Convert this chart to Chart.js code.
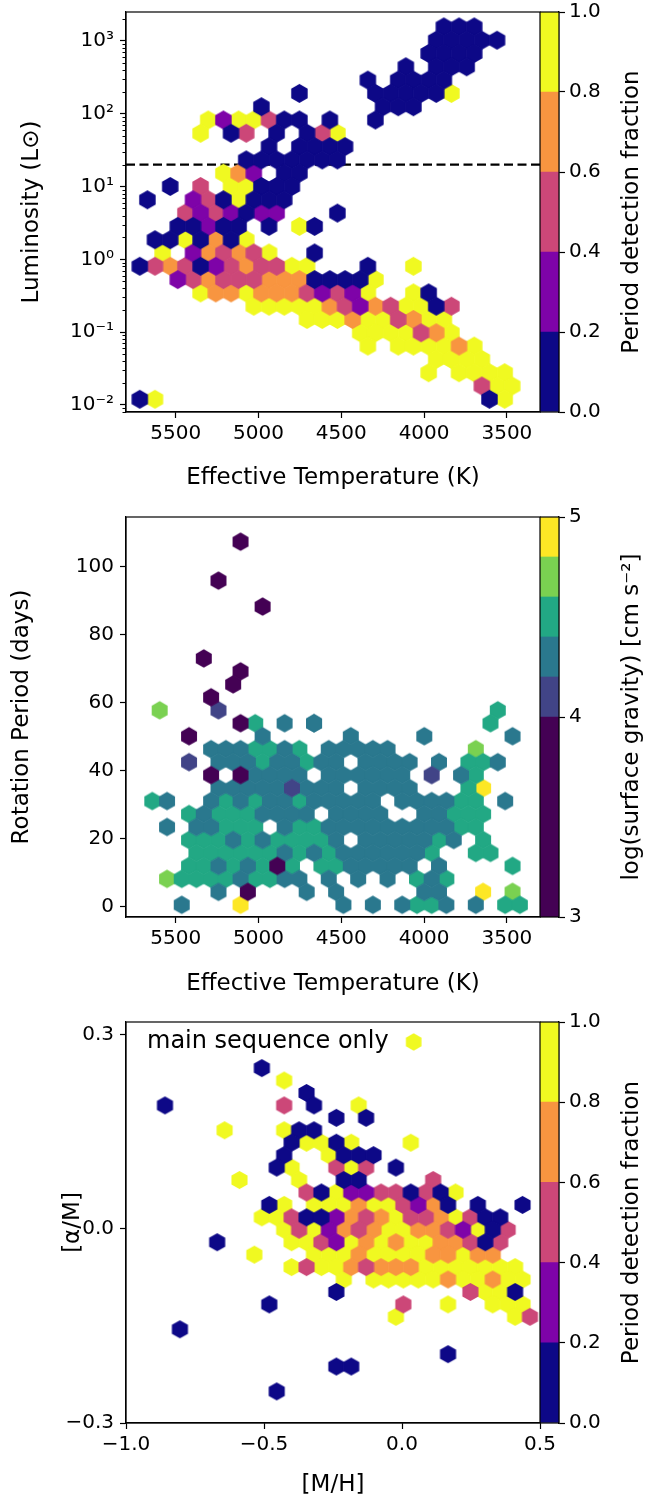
<!DOCTYPE html>
<html>
<head>
<meta charset="utf-8">
<title>Period detection across the HR diagram</title>
<script src="https://cdn.jsdelivr.net/npm/chart.js@4.4.1/dist/chart.umd.min.js"></script>
<style>
  body { margin: 0; background: #fff; }
  #page { position: relative; width: 649px; height: 1501px; overflow: hidden; background: #fff; }
  #page canvas { position: absolute; }
</style>
</head>
<body>
<div id="page">
  <canvas id="hr" width="560" height="500" style="left:0px;top:0px"></canvas>
  <canvas id="hrBar" width="109" height="500" style="left:540px;top:0px"></canvas>
  <canvas id="prot" width="560" height="505" style="left:0px;top:500px"></canvas>
  <canvas id="protBar" width="109" height="505" style="left:540px;top:500px"></canvas>
  <canvas id="chem" width="560" height="496" style="left:0px;top:1005px"></canvas>
  <canvas id="chemBar" width="109" height="496" style="left:540px;top:1005px"></canvas>
</div>
<script>
// ---------------- data ----------------
// Each hexbin row is a list of "start:cells" runs; a cell is '.' (empty)
// or the colour class of that bin. Rows go from top to bottom.

// panel 1: luminosity vs Teff, class = detection fraction bin (0-0.2 ... 0.8-1.0)
const hrRows = [
  "", "21:000", "20:00000", "20:0000", "18:0.000", "16:0.0000",
  "11:0 16:000004", "9:0 17:000", "5:4144200.0 16:0", "5:4.02.0.024",
  "9:0.0000", "8:0000000", "6:431.00", "3:0.2.44000", "1:0 4:1204000",
  "4:2121011 14:0", "3:00100.0.40", "2:0040304", "2:4.132324 12:0",
  "1:023201232244 16:0 19:4", "3:12322233300004", "5:433433321214 19:40",
  "8:44444321324402", "12:4443442344", "15:4444234", "16:4.444434",
  "20:4444", "20:4.4444", "23:244", "1:04 24:04"
];
const hrTeff0 = 5808.5, hrTeffStep = 45.9;     // K, half hex width
const hrLogL0 = 3.376, hrLogLStep = 0.1827;    // log10(L/Lsun) per row

// panel 2: rotation period vs Teff, class = log g bin
const protRows = [
  "8:0", "", "", "6:0", "", "9:0", "", "", "", "5:0", "8:0", "7:0", "6:0",
  "2:4 6:1 25:3", "8:03.2.2 13:2 25:3", "4:0 9:2 15:2 20:2 26:2",
  "6:2223323.22222 24:4", "4:1.222322322.2222.2.332",
  "6:0.02222.222222.1.23", "6:222221222.2222 23:35",
  "2:32 6:232322322222.222233.2", "4:323332222.2222 20:22333",
  "3:2.22333.23322222222233", "4:33323233332.2222232.3",
  "5:33333323232222223 24:33", "4:33232303.3322222.2 26:3",
  "3:4333323322.2.2.2.323", "6:2.0 12:2.2 20:22 24:5.4",
  "4:2 8:5 15:2.2.2332.2.33"
];
const protTeff0 = 5818.7, protTeffStep = 44.39; // K
const protP0 = 107.44, protPStep = 3.816;       // days per row

// panel 3: [alpha/M] vs [M/H], main sequence only, class = detection fraction bin
const chemRows = [
  "", "", "", "", "9:0", "11:4", "12:0", "3:0 11:2.0 16:4", "14:0.0",
  "7:4 11:400", "11:04404 19:4", "11:0 14:4000", "10:04 14:242.0",
  "8:4 12:4 15:00 21:2", "12:20411220204", "10:04.4443442130.0 27:0",
  "9:44200132342234200", "11:4241323443321402", "6:0 11:442143434433202",
  "9:4 13:4443444433433", "11:4244323334444444", "15:4.44444344344",
  "14:0 23:2440", "10:0 19:2 22:4 25:444", "18:4 26:42", "4:0", "",
  "22:0", "14:00", "", "10:0"
];
const chemMH0 = -1.0207, chemMHStep = 0.02699;
const chemAlpha0 = 0.3257, chemAlphaStep = 0.01923;

const giantCut = 20;  // Lsun, dashed line

const teffTicks = [5500, 5000, 4500, 4000, 3500];
const lumTicks = [0.01, 0.1, 1, 10, 100, 1000];
const periodTicks = [0, 20, 40, 60, 80, 100];
const mhTicks = [-1.0, -0.5, 0.0, 0.5];
const alphaTicks = [-0.3, 0.0, 0.3];
const fracEdges = [0, 0.2, 0.4, 0.6, 0.8, 1.0];
const fracTicks = [0, 0.2, 0.4, 0.6, 0.8, 1.0];
const loggEdges = [3, 4, 4.2, 4.4, 4.6, 4.8, 5];
const loggTicks = [3, 4, 5];

const plasma5 = ['#0d0887', '#7e03a8', '#cc4778', '#f89540', '#f0f921'];
const viridis6 = ['#440154', '#414487', '#2a788e', '#22a884', '#7ad151', '#fde725'];

// ---------------- helpers ----------------
Chart.defaults.font.family = "'DejaVu Sans', 'Liberation Sans', sans-serif";
Chart.defaults.color = '#000';
const TICK_PX = 20, LABEL_PX = 23, LEGEND_PX = 24;

function hexSprite(color, w, h) {
  const c = document.createElement('canvas');
  c.width = Math.ceil(w) + 2;
  c.height = Math.ceil(h) + 2;
  const g = c.getContext('2d');
  const cx = c.width / 2, cy = c.height / 2;
  g.fillStyle = color;
  g.beginPath();
  g.moveTo(cx, cy - h / 2);
  g.lineTo(cx + w / 2, cy - h / 4);
  g.lineTo(cx + w / 2, cy + h / 4);
  g.lineTo(cx, cy + h / 2);
  g.lineTo(cx - w / 2, cy + h / 4);
  g.lineTo(cx - w / 2, cy - h / 4);
  g.closePath();
  g.fill();
  return c;
}

function parseRows(rows) {
  return rows.map(spec => {
    const cells = [];
    spec.split(' ').filter(Boolean).forEach(seg => {
      const [start, chars] = seg.split(':');
      for (let j = 0; j < chars.length; j++) {
        if (chars[j] !== '.') cells.push([+start + j, +chars[j]]);
      }
    });
    return cells;
  });
}

// one dataset per colour class, odd/even rows offset by half a hex
function hexDatasets(rows, shiftEven, colors, toPoint, w, h) {
  const sets = colors.map(col => ({
    data: [],
    pointStyle: hexSprite(col, w + 1.2, h + 1.2),
    pointRadius: 8,
    showLine: false
  }));
  parseRows(rows).forEach((cells, r) => {
    const shift = ((r % 2 === 0) === shiftEven) ? 1 : 0;
    cells.forEach(([i, level]) => sets[level].data.push(toPoint(2 * i + shift, r)));
  });
  return sets;
}

const sup = {'-': '\u207B', '0': '\u2070', '1': '\u00B9', '2': '\u00B2', '3': '\u00B3'};
function pow10Label(v) {
  const e = Math.round(Math.log10(v));
  return '10' + String(e).split('').map(ch => sup[ch]).join('');
}
function signed1(v) {
  return (v < -1e-9 ? '\u2212' : '') + Math.abs(v).toFixed(1);
}

function axis(o) {
  return {
    type: o.type || 'linear',
    position: o.position,
    reverse: !!o.reverse,
    min: o.min,
    max: o.max,
    afterBuildTicks: s => { s.ticks = o.ticks.map(v => ({value: v})); },
    afterFit: s => {
      if (o.position === 'bottom') s.height = o.size; else s.width = o.size;
      s.paddingTop = 0; s.paddingBottom = 0; s.paddingLeft = 0; s.paddingRight = 0;
    },
    grid: {drawOnChartArea: false, drawTicks: true, tickLength: 6, tickColor: '#000', tickWidth: 1.2},
    border: {display: true, color: '#000', width: 1.2},
    ticks: {color: '#000', font: {size: TICK_PX}, padding: o.position === 'left' ? 6 : 4,
            autoSkip: false, maxRotation: 0, callback: o.fmt || (v => String(v))},
    title: o.title
      ? {display: true, text: o.title, color: '#000', font: {size: LABEL_PX}, padding: o.titlePad}
      : {display: false}
  };
}

const framePlugin = {
  id: 'frame',
  afterDraw(chart) {
    const a = chart.chartArea, ctx = chart.ctx;
    ctx.save();
    ctx.strokeStyle = '#000';
    ctx.lineWidth = 1.2;
    ctx.strokeRect(a.left, a.top, a.right - a.left, a.bottom - a.top);
    ctx.restore();
  }
};

const minorLogTicks = {
  id: 'minorLogTicks',
  afterDraw(chart) {
    const y = chart.scales.y, x0 = chart.chartArea.left, ctx = chart.ctx;
    ctx.save();
    ctx.strokeStyle = '#000';
    ctx.lineWidth = 1;
    for (let e = -3; e <= 3; e++) {
      for (let m = 2; m <= 9; m++) {
        const v = m * Math.pow(10, e);
        if (v < y.min || v > y.max) continue;
        const py = Math.round(y.getPixelForValue(v)) + 0.5;
        ctx.beginPath();
        ctx.moveTo(x0, py);
        ctx.lineTo(x0 - 3.5, py);
        ctx.stroke();
      }
    }
    ctx.restore();
  }
};

function hexChart(id, cfg) {
  return new Chart(document.getElementById(id), {
    type: 'scatter',
    data: {datasets: cfg.datasets},
    options: {
      responsive: false, animation: false, events: [], devicePixelRatio: 1,
      layout: {padding: {top: cfg.padTop, right: 20, left: 0, bottom: 0}},
      plugins: {legend: {display: false}, tooltip: {enabled: false}},
      scales: {x: cfg.x, y: cfg.y}
    },
    plugins: [framePlugin].concat(cfg.plugins || [])
  });
}

function colorbar(id, colors, edges, ticks, fmt, label, padTop, padBottom) {
  const titlePlugin = {
    id: 'cbTitle',
    afterDraw(chart) {
      const {ctx, chartArea} = chart;
      ctx.save();
      ctx.translate(92, (chartArea.top + chartArea.bottom) / 2);
      ctx.rotate(-Math.PI / 2);
      ctx.font = LABEL_PX + "px 'DejaVu Sans'";
      ctx.fillStyle = '#000';
      ctx.textAlign = 'center';
      ctx.textBaseline = 'middle';
      ctx.fillText(label, 0, 0);
      ctx.restore();
    }
  };
  return new Chart(document.getElementById(id), {
    type: 'bar',
    data: {
      labels: [''],
      datasets: colors.map((col, k) => ({
        data: [[edges[k], edges[k + 1]]],
        backgroundColor: col,
        borderWidth: 0,
        barPercentage: 1,
        categoryPercentage: 1,
        grouped: false
      }))
    },
    options: {
      responsive: false, animation: false, events: [], devicePixelRatio: 1,
      layout: {padding: {top: padTop, bottom: padBottom, left: 0, right: 0}},
      plugins: {legend: {display: false}, tooltip: {enabled: false}},
      scales: {
        x: {display: false},
        y: axis({position: 'right', min: edges[0], max: edges[edges.length - 1],
                 ticks: ticks, fmt: fmt, size: 90})
      }
    },
    plugins: [framePlugin, titlePlugin]
  });
}

// ---------------- panel 1 ----------------
const hrSets = hexDatasets(hrRows, true, plasma5,
  (c, r) => ({x: hrTeff0 - hrTeffStep * c, y: Math.pow(10, hrLogL0 - hrLogLStep * r)}),
  15.25, 17.73);
hrSets.push({
  data: [{x: 5800, y: giantCut}, {x: 3300, y: giantCut}],
  showLine: true, borderColor: '#000', borderWidth: 2.4, borderDash: [9, 4.5],
  pointRadius: 0, fill: false
});
hexChart('hr', {
  padTop: 12,
  datasets: hrSets,
  x: axis({position: 'bottom', reverse: true, min: 3300, max: 5800, ticks: teffTicks, size: 88,
           title: 'Effective Temperature (K)', titlePad: {bottom: 8}}),
  y: axis({position: 'left', type: 'logarithmic', min: 0.008, max: 2500, ticks: lumTicks,
           fmt: pow10Label, size: 126, title: 'Luminosity (L\u2299)', titlePad: {top: 18}}),
  plugins: [minorLogTicks]
});
colorbar('hrBar', plasma5, fracEdges, fracTicks, v => v.toFixed(1), 'Period detection fraction', 12, 88);

// ---------------- panel 2 ----------------
hexChart('prot', {
  padTop: 17,
  datasets: hexDatasets(protRows, false, viridis6,
    (c, r) => ({x: protTeff0 - protTeffStep * c, y: protP0 - protPStep * r}),
    14.75, 17.3),
  x: axis({position: 'bottom', reverse: true, min: 3300, max: 5800, ticks: teffTicks, size: 88,
           title: 'Effective Temperature (K)', titlePad: {bottom: 7}}),
  y: axis({position: 'left', min: -3, max: 114.7, ticks: periodTicks, size: 126,
           title: 'Rotation Period (days)', titlePad: {top: 8}})
});
colorbar('protBar', viridis6, loggEdges, loggTicks, v => String(v),
  'log(surface gravity) [cm s\u207B\u00B2]', 17, 88);

// ---------------- panel 3 ----------------
const msMarker = hexSprite(plasma5[4], 15.6, 17.4);
const msLegend = {
  id: 'msLegend',
  afterDraw(chart) {
    const {ctx, chartArea} = chart;
    ctx.save();
    ctx.font = LEGEND_PX + "px 'DejaVu Sans'";
    ctx.fillStyle = '#000';
    ctx.textBaseline = 'middle';
    const x = chartArea.left + 21, y = chartArea.top + 20;
    const text = 'main sequence only';
    ctx.fillText(text, x, y);
    const w = ctx.measureText(text).width;
    ctx.drawImage(msMarker, x + w + 25 - msMarker.width / 2, y - msMarker.height / 2);
    ctx.restore();
  }
};
hexChart('chem', {
  padTop: 17,
  datasets: hexDatasets(chemRows, true, plasma5,
    (k, r) => ({x: chemMH0 + chemMHStep * k, y: chemAlpha0 - chemAlphaStep * r}),
    14.9, 16.67),
  x: axis({position: 'bottom', min: -1.0, max: 0.5, ticks: mhTicks, fmt: signed1, size: 78,
           title: '[M/H]', titlePad: {bottom: 2}}),
  y: axis({position: 'left', min: -0.3, max: 0.32, ticks: alphaTicks, fmt: signed1, size: 126,
           title: '[\u03B1/M]', titlePad: {top: 59}}),
  plugins: [msLegend]
});
colorbar('chemBar', plasma5, fracEdges, fracTicks, v => v.toFixed(1), 'Period detection fraction', 17, 78);
</script>
</body>
</html>
